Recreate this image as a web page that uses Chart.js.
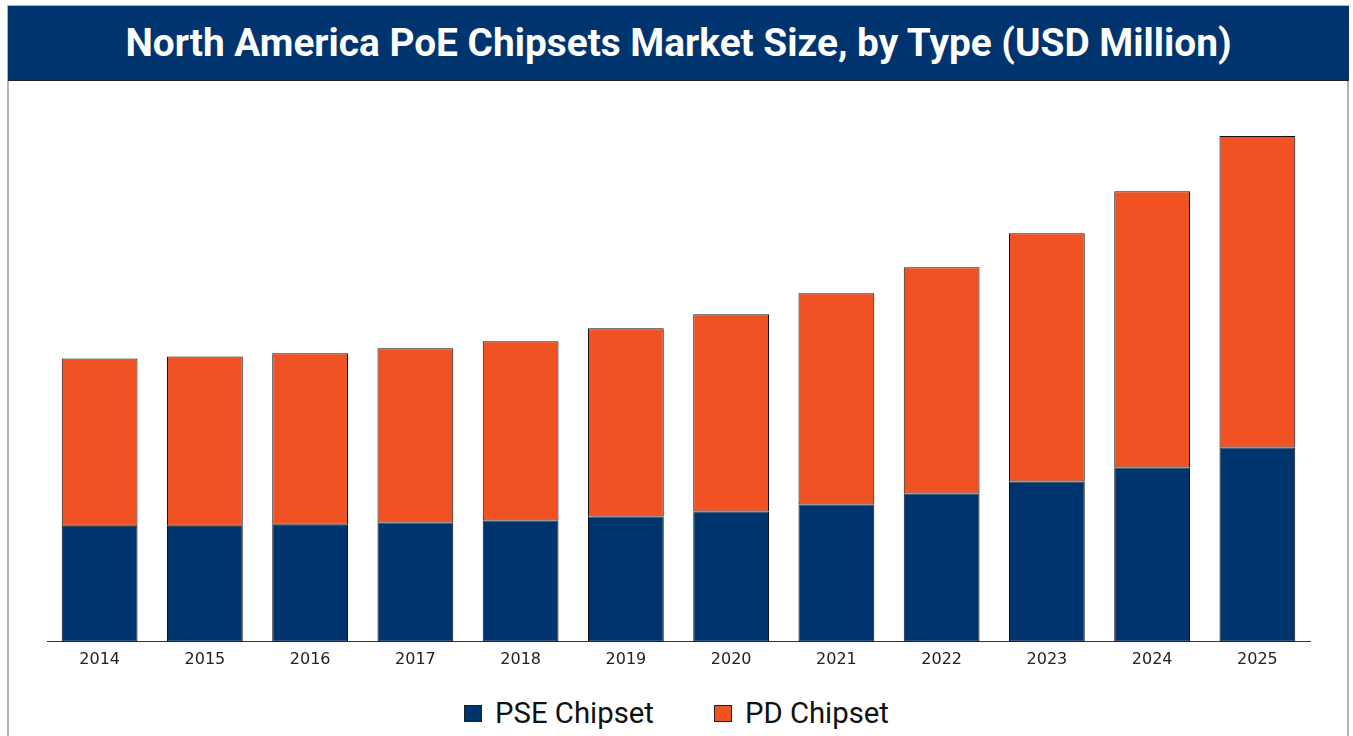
<!DOCTYPE html>
<html>
<head>
<meta charset="utf-8">
<script src="https://cdn.jsdelivr.net/npm/chart.js@4"></script>
<style>
  body { margin: 0; background: #fff; width: 1353px; height: 736px; overflow: hidden; position: relative; }
  #frame { position: absolute; left: 7px; top: 5px; width: 1342px; height: 760px; border: 2px solid #b5b5b5; box-sizing: border-box; }
  #title { position: absolute; left: 8px; top: 6px; width: 1341px; height: 75px; background: #00346f; border-bottom: 1px solid #222;
           color: #fff; font-family: Roboto, sans-serif; font-weight: 700; font-size: 38.8px; line-height: 74px; text-align: center; box-sizing: border-box; }
  #wrap { position: absolute; left: 0; top: 81px; width: 1353px; height: 600px; }
  #legend { position: absolute; left: 0; top: 693px; width: 1353px; display: flex; justify-content: center; gap: 60px;
            font-family: Roboto, sans-serif; font-size: 29.3px; color: #111; line-height: 40px; }
  #legend span.item { display: flex; align-items: center; }
  #legend i { display: inline-block; width: 18px; height: 17px; margin-right: 13px; box-sizing: border-box; border: 1px solid #222; }
</style>
</head>
<body>
<div id="frame"></div>
<div id="title">North America PoE Chipsets Market Size, by Type (USD Million)</div>
<div id="wrap"><canvas id="chart"></canvas></div>
<div id="legend"></div>
<script>
const years = ['2014', '2015', '2016', '2017', '2018', '2019', '2020', '2021', '2022', '2023', '2024', '2025'];
const pseChipset = [116, 116, 117, 119, 121, 125, 130, 137, 148, 160, 174, 194];
const pdChipset = [167, 169, 171, 174, 179, 188, 197, 211, 226, 248, 276, 311];

const navy = '#00346f';
const orange = '#f05223';

const ctx = document.getElementById('chart').getContext('2d');
const chart = new Chart(ctx, {
    type: 'bar',
    data: {
        labels: years,
        datasets: [{
            label: 'PSE Chipset',
            data: pseChipset,
            backgroundColor: navy,
            borderColor: '#111',
            borderWidth: 1,
            borderSkipped: false,
            barPercentage: 0.9,
            categoryPercentage: 0.8
        }, {
            label: 'PD Chipset',
            data: pdChipset,
            backgroundColor: orange,
            borderColor: '#111',
            borderWidth: 1,
            borderSkipped: false,
            barPercentage: 0.9,
            categoryPercentage: 0.8
        }]
    },
    options: {
        responsive: true,
        maintainAspectRatio: false,
        animation: false,
        layout: { padding: { left: 47, right: 43, top: 20, bottom: 4 } },
        plugins: {
            legend: { display: false },
            tooltip: { enabled: false }
        },
        scales: {
            x: {
                stacked: true,
                grid: { display: false, drawTicks: false },
                border: { display: true, color: '#333', width: 1 },
                ticks: { color: '#222', padding: 8, font: { family: '"DejaVu Sans", sans-serif', size: 16 } }
            },
            y: {
                stacked: true,
                display: false,
                min: 0,
                max: 540
            }
        }
    }
});

// legend built from the chart's own datasets
const legendDiv = document.getElementById('legend');
legendDiv.innerHTML = chart.data.datasets.map(ds => `
    <span class="item"><i style="background:${ds.backgroundColor}"></i>${ds.label}</span>
`).join('');
</script>
</body>
</html>
